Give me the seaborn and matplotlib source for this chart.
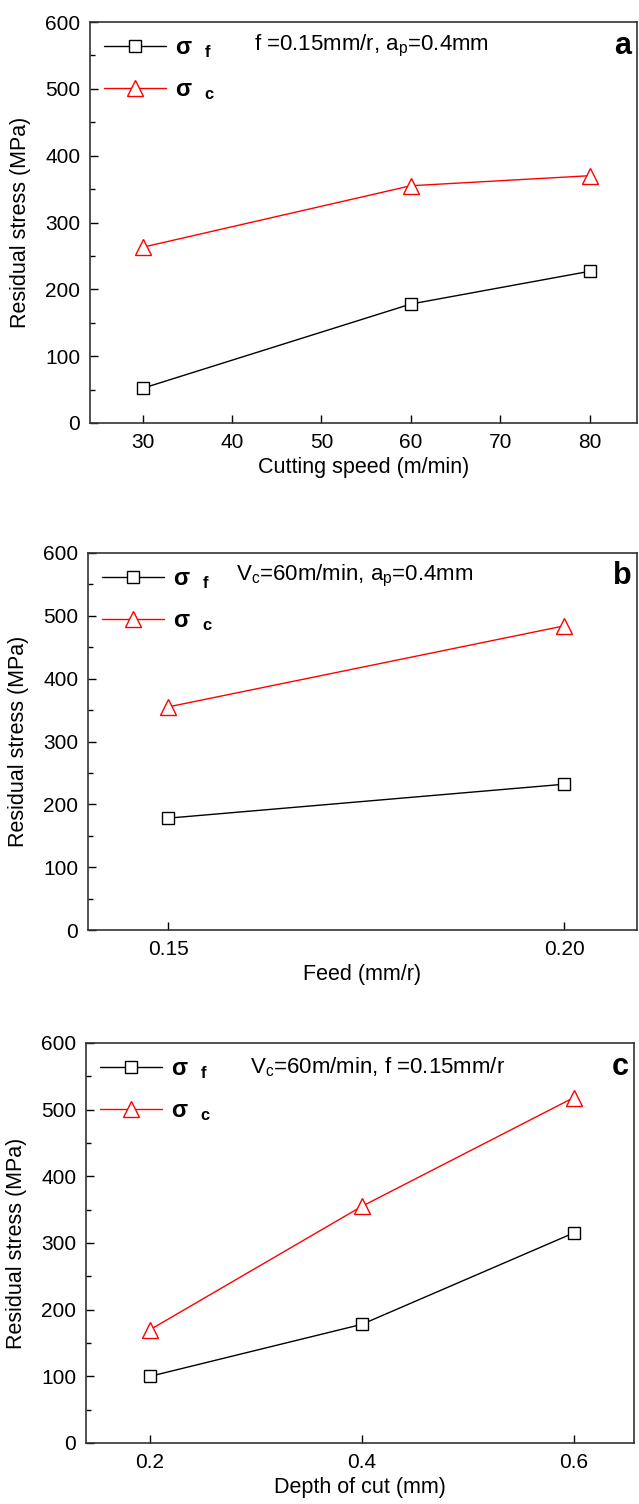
import matplotlib
matplotlib.use('Agg')
import matplotlib.pyplot as plt
import seaborn as sns
import pandas as pd
from matplotlib.ticker import MultipleLocator
from matplotlib.lines import Line2D

# data
speed = [30, 60, 80]
speed_sf = [52, 178, 227]
speed_sc = [263, 355, 370]

feed = [0.15, 0.20]
feed_sf = [178, 232]
feed_sc = [355, 484]

depth = [0.2, 0.4, 0.6]
depth_sf = [100, 178, 315]
depth_sc = [170, 355, 518]

sns.set_style('ticks')
plt.rcParams['font.family'] = ['Liberation Sans', 'DejaVu Sans']
plt.rcParams['mathtext.fontset'] = 'custom'
plt.rcParams['mathtext.rm'] = 'Liberation Sans'
plt.rcParams['mathtext.it'] = 'Liberation Sans'
plt.rcParams['text.color'] = 'black'
plt.rcParams['axes.labelcolor'] = 'black'
plt.rcParams['xtick.color'] = 'black'
plt.rcParams['ytick.color'] = 'black'

fig = plt.figure(figsize=(6.39, 15.04), dpi=100)
W, H = 639, 1504

panels = [
    dict(x=speed, sf=speed_sf, sc=speed_sc, box=(90, 22, 637, 423), xlim=(24.1, 85.3),
         xticks=[30, 40, 50, 60, 70, 80], xticklabels=['30', '40', '50', '60', '70', '80'],
         xlabel='Cutting speed (m/min)', note='f =0.15mm/r, a$_{\\mathregular{p}}$=0.4mm', note_x=0.30, letter='a'),
    dict(x=feed, sf=feed_sf, sc=feed_sc, box=(88, 553, 637, 930), xlim=(0.1399, 0.2092),
         xticks=[0.15, 0.20], xticklabels=['0.15', '0.20'],
         xlabel='Feed (mm/r)', note='V$_{\\mathregular{c}}$=60m/min, a$_{\\mathregular{p}}$=0.4mm', note_x=0.27, letter='b'),
    dict(x=depth, sf=depth_sf, sc=depth_sc, box=(86, 1043, 634, 1443), xlim=(0.1395, 0.657),
         xticks=[0.2, 0.4, 0.6], xticklabels=['0.2', '0.4', '0.6'],
         xlabel='Depth of cut (mm)', note='V$_{\\mathregular{c}}$=60m/min, f =0.15mm/r', note_x=0.30, letter='c'),
]

for p in panels:
    l, t, r, b = p['box']
    ax = fig.add_axes([l / W, 1 - b / H, (r - l) / W, (b - t) / H])
    df = pd.DataFrame({'x': p['x'], 'sf': p['sf'], 'sc': p['sc']})
    sns.lineplot(data=df, x='x', y='sf', ax=ax, color='black', lw=1.0, marker='s',
                 markersize=9, markerfacecolor='white', markeredgecolor='black', markeredgewidth=1.0)
    sns.lineplot(data=df, x='x', y='sc', ax=ax, color='red', lw=1.0, marker='^',
                 markersize=11, markerfacecolor='white', markeredgecolor='red', markeredgewidth=1.0)
    ax.set_xlim(*p['xlim'])
    ax.set_ylim(0, 600)
    ax.set_xticks(p['xticks'])
    ax.set_xticklabels(p['xticklabels'])
    ax.yaxis.set_major_locator(MultipleLocator(100))
    ax.yaxis.set_minor_locator(MultipleLocator(50))
    ax.tick_params(axis='both', direction='in', labelsize=15, length=6, width=1, pad=7)
    ax.tick_params(axis='y', which='minor', direction='in', length=3.5, width=1)
    ax.tick_params(top=False, right=False)
    for s in ax.spines.values():
        s.set_linewidth(1.2)
        s.set_color('#333333')
    ax.set_xlabel(p['xlabel'], fontsize=15.5, labelpad=4)
    ax.set_ylabel('Residual stress (MPa)', fontsize=15.5, labelpad=10)

    handles = [
        Line2D([], [], color='black', lw=1.0, marker='s', markersize=9, markerfacecolor='white'),
        Line2D([], [], color='red', lw=1.0, marker='^', markersize=11, markerfacecolor='white', markeredgecolor='red'),
    ]
    labels = ['σ  $_{\\mathregular{f}}$', 'σ  $_{\\mathregular{c}}$']
    ax.legend(handles, labels, loc='upper left', frameon=False, handlelength=2.6,
              borderaxespad=0.2, labelspacing=0.75, handletextpad=0.4,
              prop={'weight': 'bold', 'size': 17}, bbox_to_anchor=(0.0, 1.0))
    ax.text(p['note_x'], 0.94, p['note'], transform=ax.transAxes, fontsize=16, va='center', ha='left')
    ax.text(0.99, 0.94, p['letter'], transform=ax.transAxes, fontsize=22, fontweight='bold',
            va='center', ha='right')

fig.savefig('out.png', dpi=100)
